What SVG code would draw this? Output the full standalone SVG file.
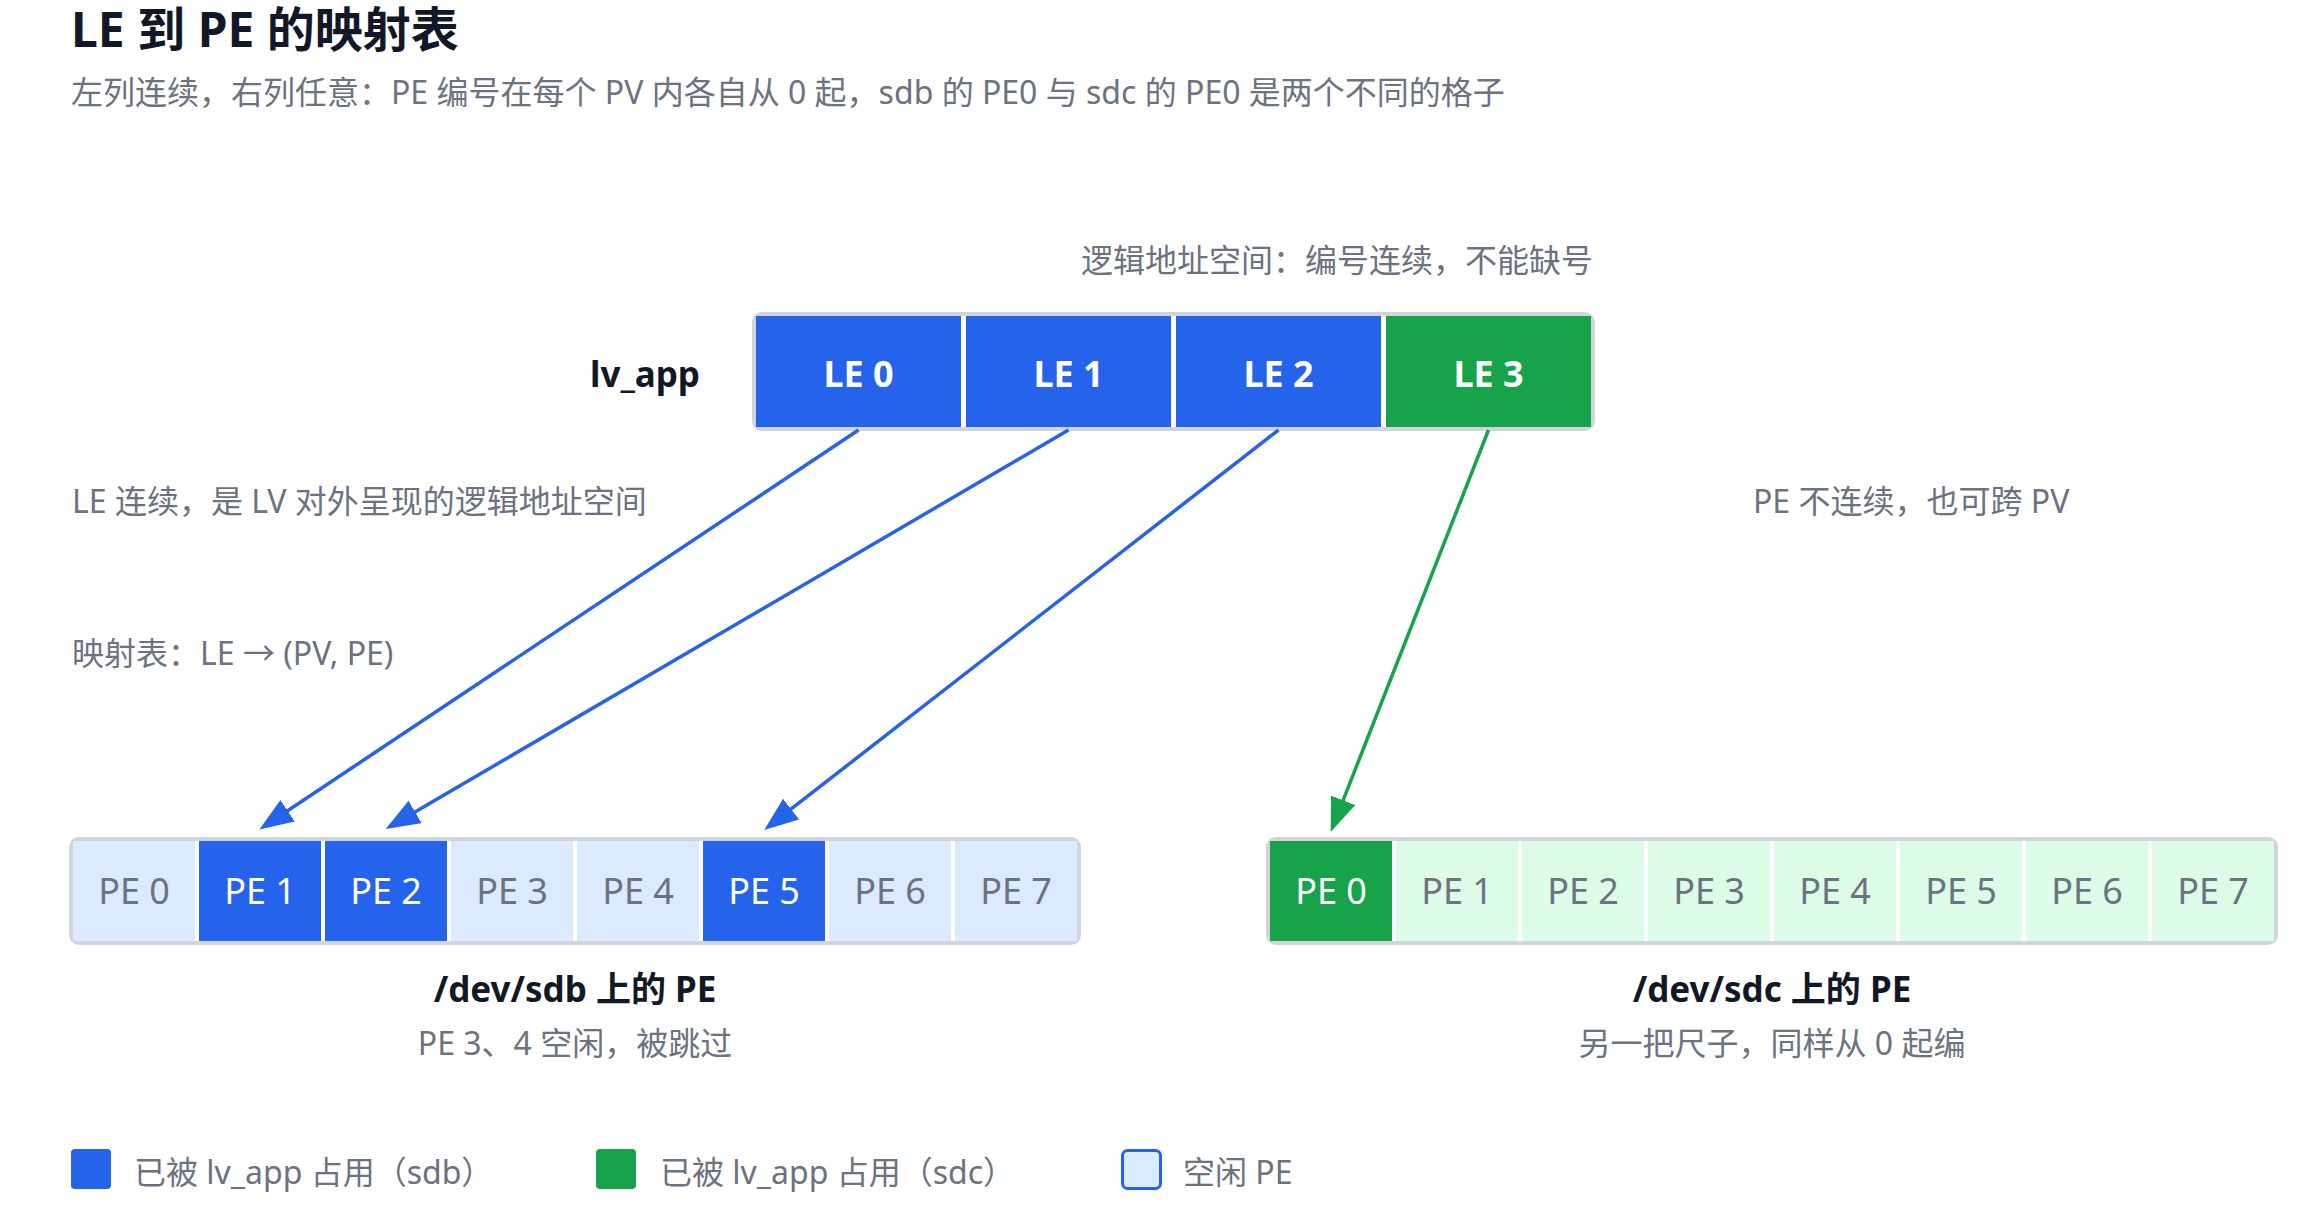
<svg xmlns="http://www.w3.org/2000/svg" width="2300" height="1211" viewBox="0 0 2300 1211">
<style>
  text { font-family: "Noto Sans", "Noto Sans CJK SC", sans-serif; }
  .title { font-size: 48px; font-weight: 700; fill: #111827; }
  .body { font-size: 32px; fill: #6b7280; }
  .bold { font-size: 35px; font-weight: 700; fill: #111827; }
  .le { font-size: 36px; font-weight: 700; fill: #ffffff; text-anchor: middle; }
  .pe { font-size: 36px; fill: #6b7280; text-anchor: middle; }
  .pew { font-size: 36px; fill: #ffffff; text-anchor: middle; }
  .frame { fill: #ffffff; stroke: #d1d5db; stroke-width: 4; }
  .blue { fill: #2563eb; }
  .green { fill: #16a34a; }
  .lblue { fill: #dbeafe; }
  .lgreen { fill: #dcfce7; }
  .cb { stroke: #2563eb; stroke-width: 3.5; fill: none; }
  .cg { stroke: #16a34a; stroke-width: 3.5; fill: none; }
</style>
<defs>
  <marker id="ab" markerUnits="userSpaceOnUse" markerWidth="36" markerHeight="28" refX="14" refY="13" orient="auto">
    <path d="M0,0 L34,13 L0,26 z" fill="#2563eb"/>
  </marker>
  <marker id="ag" markerUnits="userSpaceOnUse" markerWidth="36" markerHeight="28" refX="14" refY="13" orient="auto">
    <path d="M0,0 L34,13 L0,26 z" fill="#16a34a"/>
  </marker>
</defs>
<rect width="2300" height="1211" fill="#ffffff"/>

<g id="header">
  <text class="title" x="71" y="47">LE 到 PE 的映射表</text>
  <text class="body" x="71" y="104">左列连续，右列任意：PE 编号在每个 PV 内各自从 0 起，sdb 的 PE0 与 sdc 的 PE0 是两个不同的格子</text>
</g>

<g id="notes">
  <text class="body" x="1593" y="272" text-anchor="end">逻辑地址空间：编号连续，不能缺号</text>
  <text class="body" x="72" y="513">LE 连续，是 LV 对外呈现的逻辑地址空间</text>
  <text class="body" x="1753" y="513">PE 不连续，也可跨 PV</text>
  <text class="body" x="72" y="665">映射表：LE → (PV, PE)</text>
</g>

<g id="lv_app">
  <text class="bold" x="700" y="387" text-anchor="end">lv_app</text>
  <rect class="frame" x="754" y="314" width="839" height="115" rx="8"/>
  <rect class="blue" x="756" y="316" width="205" height="111"/>
  <rect class="blue" x="966" y="316" width="205" height="111"/>
  <rect class="blue" x="1176" y="316" width="205" height="111"/>
  <rect class="green" x="1386" y="316" width="205" height="111"/>
  <text class="le" x="858.5" y="387">LE 0</text>
  <text class="le" x="1068.5" y="387">LE 1</text>
  <text class="le" x="1278.5" y="387">LE 2</text>
  <text class="le" x="1488.5" y="387">LE 3</text>
</g>

<g id="connectors">
  <line class="cb" x1="858.5" y1="430" x2="276" y2="818.5" marker-end="url(#ab)"/>
  <line class="cb" x1="1068.5" y1="430" x2="403" y2="819" marker-end="url(#ab)"/>
  <line class="cb" x1="1278.5" y1="430" x2="780" y2="817.7" marker-end="url(#ab)"/>
  <line class="cg" x1="1488.5" y1="430" x2="1338" y2="813.4" marker-end="url(#ag)"/>
</g>

<g id="sdb">
  <rect class="frame" x="71" y="839" width="1008" height="104" rx="8"/>
  <rect class="lblue" x="73" y="841" width="122" height="100"/>
  <rect class="blue" x="199" y="841" width="122" height="100"/>
  <rect class="blue" x="325" y="841" width="122" height="100"/>
  <rect class="lblue" x="451" y="841" width="122" height="100"/>
  <rect class="lblue" x="577" y="841" width="122" height="100"/>
  <rect class="blue" x="703" y="841" width="122" height="100"/>
  <rect class="lblue" x="829" y="841" width="122" height="100"/>
  <rect class="lblue" x="955" y="841" width="122" height="100"/>
  <text class="pe" x="134" y="904">PE 0</text>
  <text class="pew" x="260" y="904">PE 1</text>
  <text class="pew" x="386" y="904">PE 2</text>
  <text class="pe" x="512" y="904">PE 3</text>
  <text class="pe" x="638" y="904">PE 4</text>
  <text class="pew" x="764" y="904">PE 5</text>
  <text class="pe" x="890" y="904">PE 6</text>
  <text class="pe" x="1016" y="904">PE 7</text>
  <text class="bold" x="575" y="1002" text-anchor="middle">/dev/sdb 上的 PE</text>
  <text class="body" x="575" y="1055" text-anchor="middle">PE 3、4 空闲，被跳过</text>
</g>

<g id="sdc">
  <rect class="frame" x="1268" y="839" width="1008" height="104" rx="8"/>
  <rect class="green" x="1270" y="841" width="122" height="100"/>
  <rect class="lgreen" x="1396" y="841" width="122" height="100"/>
  <rect class="lgreen" x="1522" y="841" width="122" height="100"/>
  <rect class="lgreen" x="1648" y="841" width="122" height="100"/>
  <rect class="lgreen" x="1774" y="841" width="122" height="100"/>
  <rect class="lgreen" x="1900" y="841" width="122" height="100"/>
  <rect class="lgreen" x="2026" y="841" width="122" height="100"/>
  <rect class="lgreen" x="2152" y="841" width="122" height="100"/>
  <text class="pew" x="1331" y="904">PE 0</text>
  <text class="pe" x="1457" y="904">PE 1</text>
  <text class="pe" x="1583" y="904">PE 2</text>
  <text class="pe" x="1709" y="904">PE 3</text>
  <text class="pe" x="1835" y="904">PE 4</text>
  <text class="pe" x="1961" y="904">PE 5</text>
  <text class="pe" x="2087" y="904">PE 6</text>
  <text class="pe" x="2213" y="904">PE 7</text>
  <text class="bold" x="1772" y="1002" text-anchor="middle">/dev/sdc 上的 PE</text>
  <text class="body" x="1772" y="1055" text-anchor="middle">另一把尺子，同样从 0 起编</text>
</g>

<g id="legend">
  <rect class="blue" x="71" y="1149" width="40" height="40" rx="4"/>
  <text class="body" x="134" y="1184">已被 lv_app 占用（sdb）</text>
  <rect class="green" x="596" y="1149" width="40" height="40" rx="4"/>
  <text class="body" x="660" y="1184">已被 lv_app 占用（sdc）</text>
  <rect x="1122.5" y="1150.5" width="38" height="38" rx="5" fill="#dbeafe" stroke="#2563eb" stroke-width="3"/>
  <text class="body" x="1183" y="1184">空闲 PE</text>
</g>
</svg>
